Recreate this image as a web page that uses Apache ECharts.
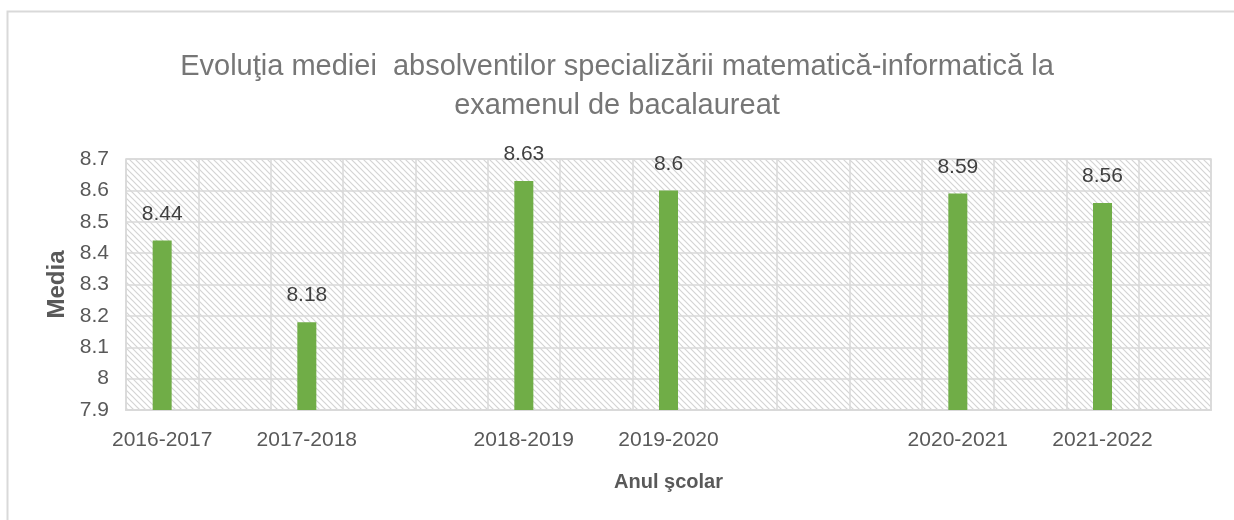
<!DOCTYPE html>
<html>
<head>
<meta charset="utf-8">
<script src="https://cdn.jsdelivr.net/npm/echarts@6/dist/echarts.min.js"></script>
<style>
  html, body { margin: 0; padding: 0; background: #fff; }
  #chart { width: 1234px; height: 520px; }
</style>
</head>
<body>
<div id="chart"></div>
<script>
// categories (blank slots keep the spacing of the original axis)
const years = ['2016-2017', '', '2017-2018', '', '', '2018-2019', '', '2019-2020', '', '', '', '2020-2021', '', '2021-2022', '']
const media = [8.44, null, 8.18, null, null, 8.63, null, 8.6, null, null, null, 8.59, null, 8.56, null]

const textColor = '#595959'
const gridColor = '#d9d9d9'
const font = "'Liberation Sans', Arial, sans-serif"

// diagonal hatch for the plot background
const makeHatch = () => {
  const size = 6
  const c = document.createElement('canvas')
  c.width = size
  c.height = size
  const ctx = c.getContext('2d')
  ctx.fillStyle = '#ffffff'
  ctx.fillRect(0, 0, size, size)
  ctx.strokeStyle = '#d4d4d4'
  ctx.lineWidth = 1.2
  ctx.beginPath()
  ctx.moveTo(-1, -1); ctx.lineTo(size + 1, size + 1)
  ctx.moveTo(-1, size - 1); ctx.lineTo(1, size + 1)
  ctx.moveTo(size - 1, -1); ctx.lineTo(size + 1, 1)
  ctx.stroke()
  return c
}

const chart = echarts.init(document.getElementById('chart'))

const option = {
  animation: false,
  title: {
    text: 'Evoluţia mediei  absolventilor specializării matematică-informatică la\nexamenul de bacalaureat',
    left: 'center',
    top: 42,
    textStyle: {
      fontFamily: font,
      fontWeight: 'normal',
      fontSize: 29,
      lineHeight: 39,
      color: '#767676'
    }
  },
  graphic: [{
    type: 'rect',
    shape: { x: 7.5, y: 11.5, width: 1300, height: 600 },
    style: { fill: 'none', stroke: gridColor, lineWidth: 2 },
    silent: true
  }],
  grid: {
    left: 126,
    right: 23,
    top: 159,
    bottom: 110,
    show: true,
    backgroundColor: { image: makeHatch(), repeat: 'repeat' },
    borderColor: gridColor,
    borderWidth: 1.5
  },
  xAxis: {
    type: 'category',
    data: years,
    name: 'Anul şcolar',
    nameLocation: 'middle',
    nameGap: 62,
    nameTextStyle: {
      fontFamily: font,
      fontWeight: 'bold',
      fontSize: 20,
      color: textColor
    },
    axisLine: { lineStyle: { color: gridColor, width: 2 } },
    axisTick: { show: false },
    axisLabel: {
      interval: 0,
      margin: 20,
      fontFamily: font,
      fontSize: 21,
      color: textColor
    },
    splitLine: { show: true, interval: 0, lineStyle: { color: gridColor, width: 1.5 } }
  },
  yAxis: {
    type: 'value',
    min: 7.9,
    max: 8.7,
    interval: 0.1,
    name: 'Media',
    nameLocation: 'middle',
    nameGap: 55,
    nameTextStyle: {
      fontFamily: font,
      fontWeight: 'bold',
      fontSize: 24,
      color: textColor
    },
    axisLine: { show: false },
    axisTick: { show: false },
    axisLabel: {
      margin: 17,
      fontFamily: font,
      fontSize: 21,
      color: textColor,
      formatter: v => String(Math.round(v * 10) / 10)
    },
    splitLine: { lineStyle: { color: gridColor, width: 1.5 } }
  },
  series: [{
    type: 'bar',
    data: media,
    barWidth: 19,
    itemStyle: { color: '#70ad47' },
    label: {
      show: true,
      position: 'top',
      distance: 16,
      fontFamily: font,
      fontSize: 21,
      color: '#404040',
      formatter: p => p.value
    }
  }]
}

chart.setOption(option)
window.addEventListener('resize', () => chart.resize())
</script>
</body>
</html>
